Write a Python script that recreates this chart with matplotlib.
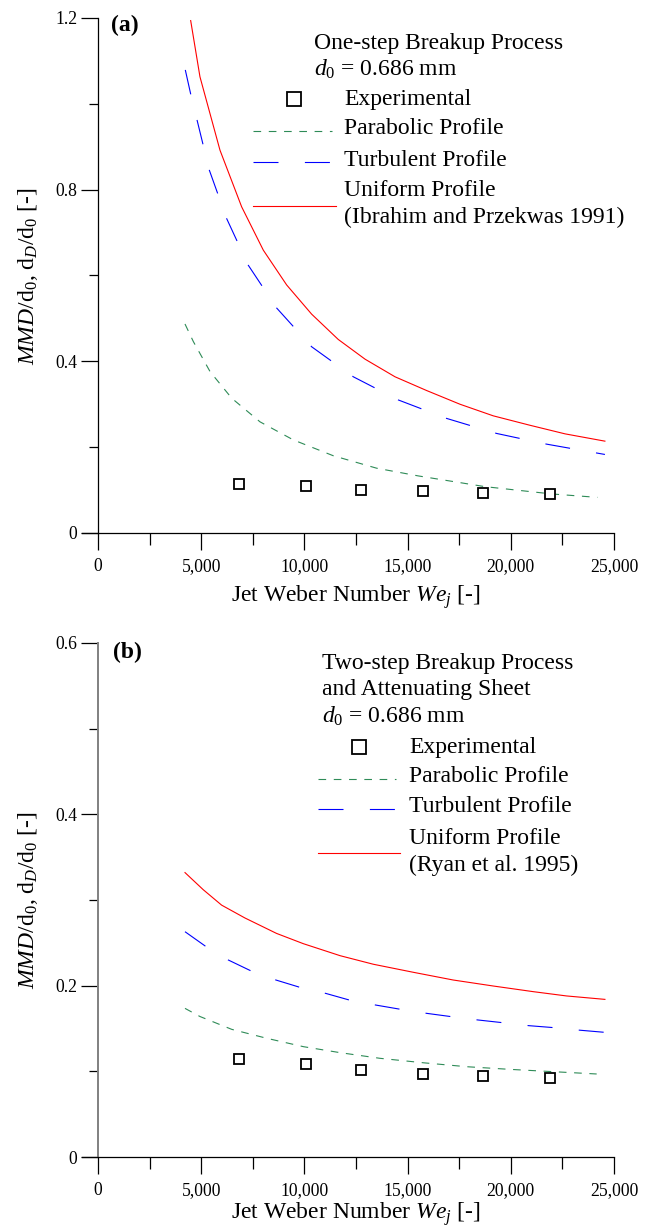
import matplotlib
matplotlib.use('Agg')
import matplotlib.pyplot as plt
from matplotlib.lines import Line2D
from matplotlib.ticker import MultipleLocator, FuncFormatter

plt.rcParams['font.family'] = ['Liberation Serif', 'DejaVu Serif']
plt.rcParams['mathtext.fontset'] = 'custom'
plt.rcParams['mathtext.rm'] = 'Liberation Serif'
plt.rcParams['mathtext.it'] = 'Liberation Serif:italic'
plt.rcParams['mathtext.bf'] = 'Liberation Serif:bold'
plt.rcParams['lines.scale_dashes'] = False

# experimental points (same in both panels)
exp_we = [6820, 10080, 12760, 15770, 18650, 21920]
exp_val = [0.114, 0.109, 0.101, 0.097, 0.094, 0.092]

# (a) one-step breakup
a_par_we = [4215, 4620, 5430, 6480, 7850, 9460, 11400, 13500, 15520, 18750, 21980, 24200]
a_par_val = [0.487, 0.446, 0.376, 0.314, 0.259, 0.217, 0.180, 0.151, 0.133, 0.108, 0.091, 0.083]
a_tur_we = [4230, 4490, 5390, 6230, 7280, 8660, 10350, 12370, 14550, 16890, 19310, 21740, 24560]
a_tur_val = [1.079, 1.023, 0.846, 0.733, 0.624, 0.524, 0.434, 0.364, 0.310, 0.267, 0.232, 0.207, 0.183]
a_uni_we = [4490, 4940, 5910, 6960, 8010, 9140, 10350, 11640, 12940, 14390, 15920, 17540, 19150, 20930, 22630, 24560]
a_uni_val = [1.194, 1.063, 0.892, 0.760, 0.659, 0.578, 0.510, 0.451, 0.405, 0.364, 0.332, 0.300, 0.273, 0.251, 0.231, 0.214]

# (b) two-step breakup and attenuating sheet
b_par_we = [4215, 4940, 6480, 8170, 9950, 11730, 13660, 15760, 17860, 19960, 22060, 24160]
b_par_val = [0.1735, 0.164, 0.149, 0.1386, 0.1288, 0.1218, 0.1152, 0.110, 0.1054, 0.1023, 0.0996, 0.0969]
b_tur_we = [4215, 5210, 6310, 7390, 8620, 9790, 11030, 12210, 13450, 14660, 15920, 17130, 18390, 19600, 20880, 22090, 23350, 24560]
b_tur_val = [0.263, 0.246, 0.230, 0.2175, 0.2066, 0.198, 0.191, 0.183, 0.1774, 0.1724, 0.1677, 0.1638, 0.160, 0.1568, 0.1533, 0.151, 0.148, 0.1455]
b_uni_we = [4215, 5100, 5990, 7120, 8650, 9950, 11730, 13340, 15280, 17210, 19150, 21090, 22700, 24560]
b_uni_val = [0.332, 0.312, 0.294, 0.279, 0.261, 0.249, 0.235, 0.225, 0.2156, 0.2066, 0.1996, 0.193, 0.188, 0.184]

W, H = 651, 1227
GREEN, BLUE, RED = '#2e8b57', '#0000ff', '#ff0000'
PAR_DASH = (5.5, 5.5)
TUR_DASH = (18, 19)

fig = plt.figure(figsize=(W / 100, H / 100), dpi=100)


def px(x, y):
    return x / W, 1 - y / H


def make_axes(top, bottom, ymax, ymajor):
    ax = fig.add_axes([82 / W, 1 - bottom / H, (614 - 82) / W, (bottom - top) / H])
    ax.set_xlim(-775, 25000)
    ax.set_ylim(0, ymax)
    ax.spines['top'].set_visible(False)
    ax.spines['right'].set_visible(False)
    ax.spines['left'].set_position(('data', 0))
    ax.spines['left'].set_linewidth(0.9)
    ax.spines['bottom'].set_linewidth(0.9)
    ax.xaxis.set_major_locator(MultipleLocator(5000))
    ax.xaxis.set_minor_locator(MultipleLocator(2500))
    ax.yaxis.set_major_locator(MultipleLocator(ymajor))
    ax.yaxis.set_minor_locator(MultipleLocator(ymajor / 2))
    ax.xaxis.set_major_formatter(FuncFormatter(lambda v, p: f'{int(v):,}'))
    ax.yaxis.set_major_formatter(FuncFormatter(lambda v, p: '0' if abs(v) < 1e-9 else f'{v:.1f}'))
    ax.tick_params(which='major', direction='out', length=12, width=0.9, labelsize=12.7, pad=3)
    ax.tick_params(axis='x', which='major', pad=6)
    ax.tick_params(axis='x', which='minor', direction='out', length=8.5, width=0.9)
    ax.tick_params(axis='y', which='minor', direction='out', length=6.5, width=0.9)
    ax.patch.set_visible(False)
    return ax


def draw_panel(ax, par, tur, uni):
    ax.plot(par[0], par[1], color=GREEN, lw=0.8, dashes=PAR_DASH)
    ax.plot(tur[0], tur[1], color=BLUE, lw=0.8, dashes=TUR_DASH)
    ax.plot(uni[0], uni[1], color=RED, lw=0.8)
    ax.plot(exp_we, exp_val, ls='none', marker='s', ms=7, mfc='white', mec='black', mew=1.3)


def legend_block(x_line0, x_line1, x_marker, x_text, ys, uni_line_y, uni_lines):
    fs = 17
    fig.add_artist(Line2D([x_marker / W], [1 - ys[0] / H], ls='none', marker='s', ms=10,
                          mfc='white', mec='black', mew=1.3))
    fig.text(*px(x_text, ys[0]), 'Experimental', fontsize=fs, va='center')
    fig.add_artist(Line2D([x_line0 / W, x_line1 / W], [1 - (ys[1] + 2) / H] * 2, color=GREEN, lw=0.8, dashes=PAR_DASH))
    fig.text(*px(x_text, ys[1]), 'Parabolic Profile', fontsize=fs, va='center')
    fig.add_artist(Line2D([x_line0 / W, x_line1 / W], [1 - (ys[2] + 2) / H] * 2, color=BLUE, lw=0.8, dashes=TUR_DASH))
    fig.text(*px(x_text, ys[2]), 'Turbulent Profile', fontsize=fs, va='center')
    fig.add_artist(Line2D([x_line0 / W, x_line1 / W + 4 / W], [1 - uni_line_y / H] * 2, color=RED, lw=0.8))
    fig.text(*px(x_text, ys[3]), uni_lines[0], fontsize=fs, va='center')
    fig.text(*px(x_text, ys[3] + 27), uni_lines[1], fontsize=fs, va='center')


ylab = r'$\mathit{MMD}/\mathrm{d}_{\mathit{0}}$, $\mathrm{d}_{\mathit{D}}/\mathrm{d}_{\mathit{0}}$ [-]'
xlab = r'Jet Weber Number $\mathit{We}_{\mathit{j}}$ [-]'
d0 = r'$\mathit{d}_{\mathit{0}}$ = 0.686 mm'

# panel (a)
ax1 = make_axes(18, 533, 1.2, 0.4)
draw_panel(ax1, (a_par_we, a_par_val), (a_tur_we, a_tur_val), (a_uni_we, a_uni_val))
fig.text(*px(111, 25), '(a)', fontsize=17, fontweight='bold', va='center')
fig.text(*px(314, 43), 'One-step Breakup Process', fontsize=17, va='center')
fig.text(*px(314, 69), d0, fontsize=17, va='center')
legend_block(253, 332, 294, 344, [99, 129, 160, 190], 206,
             ['Uniform Profile', '(Ibrahim and Przekwas 1991)'])
fig.text(*px(28, 276), ylab, fontsize=17, rotation=90, ha='center', va='center')
fig.text(*px(356, 597), xlab, fontsize=17, ha='center', va='center')

# panel (b)
ax2 = make_axes(643, 1157, 0.6, 0.2)
ax2.spines['left'].set_color('#808080')
ax2.spines['left'].set_linewidth(1.4)
draw_panel(ax2, (b_par_we, b_par_val), (b_tur_we, b_tur_val), (b_uni_we, b_uni_val))
fig.text(*px(113, 652), '(b)', fontsize=17, fontweight='bold', va='center')
fig.text(*px(322, 663), 'Two-step Breakup Process', fontsize=17, va='center')
fig.text(*px(322, 690), 'and Attenuating Sheet', fontsize=17, va='center')
fig.text(*px(322, 716), d0, fontsize=17, va='center')
legend_block(318, 396, 359, 409, [747, 777, 807, 838], 853,
             ['Uniform Profile', '(Ryan et al. 1995)'])
fig.text(*px(28, 900), ylab, fontsize=17, rotation=90, ha='center', va='center')
fig.text(*px(356, 1214), xlab, fontsize=17, ha='center', va='center')

fig.savefig('out.png', dpi=100)
